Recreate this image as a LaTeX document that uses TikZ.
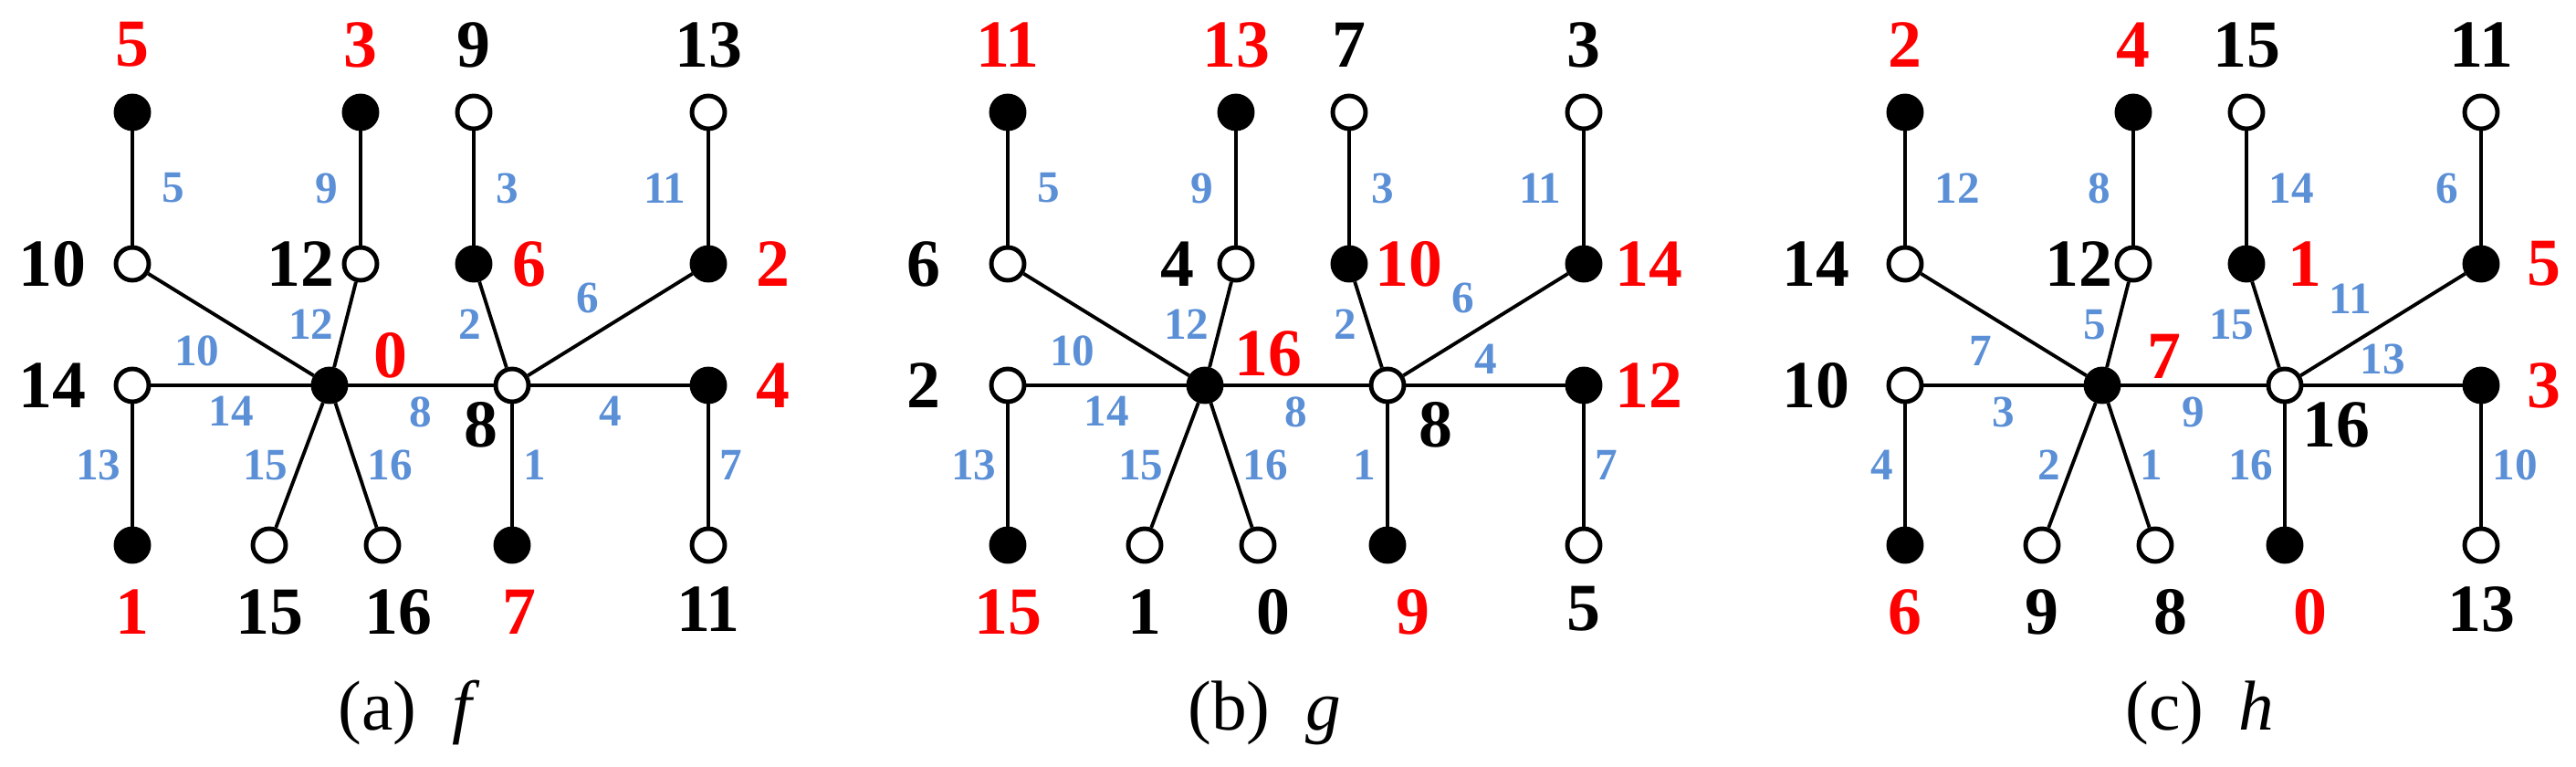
\documentclass[tikz,border=0pt]{standalone}
\usepackage{fontspec}
\setmainfont{Liberation Serif}
\tikzset{
  full/.style={circle,draw=black,line width=1.4pt,fill=black,inner sep=0pt,minimum size=0.36cm},
  hollow/.style={full,fill=white},
  vlab/.style={font=\fontsize{21}{21}\selectfont\bfseries,inner sep=0pt},
  elab/.style={font=\fontsize{14}{14}\selectfont\bfseries,text=edgeblue,inner sep=3pt},
  captext/.style={font=\fontsize{22}{22}\selectfont}
}
\definecolor{edgeblue}{HTML}{5B8FD6}
\newcommand{\placetree}{%
  \foreach \n/\x/\y/\s in {t1/1.45/7.16/full, m1/1.45/5.50/hollow, t2/3.95/7.16/full,
      m2/3.95/5.50/hollow, t3/5.19/7.16/hollow, m3/5.19/5.50/full, t4/7.76/7.16/hollow,
      m4/7.76/5.50/full, l/1.45/4.17/hollow, u/3.61/4.17/full, v/5.61/4.17/hollow,
      r/7.76/4.17/full, b1/1.45/2.42/full, b2/2.95/2.42/hollow, b3/4.19/2.42/hollow,
      b4/5.61/2.42/full, b5/7.76/2.42/hollow}
    \node[\s] (\n) at (\x,\y) {};}
\begin{document}
\begin{tikzpicture}
  \useasboundingbox (0,0) rectangle (28.22,8.39);
  % (a) f
  \begin{scope}
    \placetree
    \begin{scope}[every edge/.style={draw=black,line width=1.1pt}]
      \path (t1) edge node[elab,right=0.2cm] {5} (m1);
      \path (t2) edge node[elab,left=0.12cm] {9} (m2);
      \path (t3) edge node[elab,right=0.12cm] {3} (m3);
      \path (t4) edge node[elab,left=0.12cm] {11} (m4);
      \path (m1) edge node[elab,below left] {10} (u);
      \path (m2) edge node[elab,left] {12} (u);
      \path (m3) edge node[elab,left] {2} (v);
      \path (m4) edge node[elab,above left] {6} (v);
      \path (l) edge node[elab,below] {14} (u);
      \path (u) edge node[elab,below] {8} (v);
      \path (v) edge node[elab,below] {4} (r);
      \path (l) edge node[elab,left] {13} (b1);
      \path (u) edge node[elab,left] {15} (b2);
      \path (u) edge node[elab,right] {16} (b3);
      \path (v) edge node[elab,right] {1} (b4);
      \path (r) edge node[elab,right] {7} (b5);
    \end{scope}
    \node[vlab,red] at ([yshift=0.74cm]t1) {5};
    \node[vlab,red] at ([yshift=0.74cm]t2) {3};
    \node[vlab] at ([yshift=0.74cm]t3) {9};
    \node[vlab] at ([yshift=0.74cm]t4) {13};
    \node[vlab,anchor=east] at ([xshift=-0.5cm]m1) {10};
    \node[vlab,anchor=east] at ([xshift=-0.28cm]m2) {12};
    \node[vlab,red,anchor=west] at ([xshift=0.42cm]m3) {6};
    \node[vlab,red,anchor=west] at ([xshift=0.52cm]m4) {2};
    \node[vlab,anchor=east] at ([xshift=-0.5cm]l) {14};
    \node[vlab,red] at ([shift={(0.67,0.33)}]u) {0};
    \node[vlab] at ([shift={(-0.34,-0.43)}]v) {8};
    \node[vlab,red,anchor=west] at ([xshift=0.52cm]r) {4};
    \node[vlab,red] at ([yshift=-0.73cm]b1) {1};
    \node[vlab] at ([yshift=-0.73cm]b2) {15};
    \node[vlab] at ([shift={(0.17,-0.73)}]b3) {16};
    \node[vlab,red] at ([shift={(0.08,-0.73)}]b4) {7};
    \node[vlab] at ([yshift=-0.7cm]b5) {11};
    \node[captext] (capa) at (4.48,0.58) {(a)\ \ \textit{f}};
  \end{scope}
  % (b) g
  \begin{scope}[xshift=9.59cm]
    \placetree
    \begin{scope}[every edge/.style={draw=black,line width=1.1pt}]
      \path (t1) edge node[elab,right=0.2cm] {5} (m1);
      \path (t2) edge node[elab,left=0.12cm] {9} (m2);
      \path (t3) edge node[elab,right=0.12cm] {3} (m3);
      \path (t4) edge node[elab,left=0.12cm] {11} (m4);
      \path (m1) edge node[elab,below left] {10} (u);
      \path (m2) edge node[elab,left] {12} (u);
      \path (m3) edge node[elab,left] {2} (v);
      \path (m4) edge node[elab,above left] {6} (v);
      \path (l) edge node[elab,below] {14} (u);
      \path (u) edge node[elab,below] {8} (v);
      \path (v) edge node[elab,above] {4} (r);
      \path (l) edge node[elab,left] {13} (b1);
      \path (u) edge node[elab,left] {15} (b2);
      \path (u) edge node[elab,right] {16} (b3);
      \path (v) edge node[elab,left] {1} (b4);
      \path (r) edge node[elab,right] {7} (b5);
    \end{scope}
    \node[vlab,red] at ([yshift=0.74cm]t1) {11};
    \node[vlab,red] at ([yshift=0.74cm]t2) {13};
    \node[vlab] at ([yshift=0.74cm]t3) {7};
    \node[vlab] at ([yshift=0.74cm]t4) {3};
    \node[vlab,anchor=east] at ([xshift=-0.73cm]m1) {6};
    \node[vlab,anchor=east] at ([xshift=-0.45cm]m2) {4};
    \node[vlab,red,anchor=west] at ([xshift=0.28cm]m3) {10};
    \node[vlab,red,anchor=west] at ([xshift=0.34cm]m4) {14};
    \node[vlab,anchor=east] at ([xshift=-0.73cm]l) {2};
    \node[vlab,red] at ([shift={(0.69,0.35)}]u) {16};
    \node[vlab] at ([shift={(0.53,-0.43)}]v) {8};
    \node[vlab,red,anchor=west] at ([xshift=0.34cm]r) {12};
    \node[vlab,red] at ([yshift=-0.73cm]b1) {15};
    \node[vlab] at ([yshift=-0.73cm]b2) {1};
    \node[vlab] at ([shift={(0.17,-0.73)}]b3) {0};
    \node[vlab,red] at ([shift={(0.28,-0.73)}]b4) {9};
    \node[vlab] at ([yshift=-0.7cm]b5) {5};
    \node[captext] (capb) at (4.26,0.58) {(b)\ \ \textit{g}};
  \end{scope}
  % (c) h
  \begin{scope}[xshift=19.42cm]
    \placetree
    \begin{scope}[every edge/.style={draw=black,line width=1.1pt}]
      \path (t1) edge node[elab,right=0.2cm] {12} (m1);
      \path (t2) edge node[elab,left=0.12cm] {8} (m2);
      \path (t3) edge node[elab,right=0.12cm] {14} (m3);
      \path (t4) edge node[elab,left=0.12cm] {6} (m4);
      \path (m1) edge node[elab,below left] {7} (u);
      \path (m2) edge node[elab,left] {5} (u);
      \path (m3) edge node[elab,left] {15} (v);
      \path (m4) edge node[elab,above left] {11} (v);
      \path (l) edge node[elab,below] {3} (u);
      \path (u) edge node[elab,below] {9} (v);
      \path (v) edge node[elab,above] {13} (r);
      \path (l) edge node[elab,left] {4} (b1);
      \path (u) edge node[elab,left] {2} (b2);
      \path (u) edge node[elab,right] {1} (b3);
      \path (v) edge node[elab,left] {16} (b4);
      \path (r) edge node[elab,right] {10} (b5);
    \end{scope}
    \node[vlab,red] at ([yshift=0.74cm]t1) {2};
    \node[vlab,red] at ([yshift=0.74cm]t2) {4};
    \node[vlab] at ([yshift=0.74cm]t3) {15};
    \node[vlab] at ([yshift=0.74cm]t4) {11};
    \node[vlab,anchor=east] at ([xshift=-0.6cm]m1) {14};
    \node[vlab,anchor=east] at ([xshift=-0.22cm]m2) {12};
    \node[vlab,red,anchor=west] at ([xshift=0.45cm]m3) {1};
    \node[vlab,red,anchor=west] at ([xshift=0.5cm]m4) {5};
    \node[vlab,anchor=east] at ([xshift=-0.6cm]l) {10};
    \node[vlab,red] at ([shift={(0.68,0.32)}]u) {7};
    \node[vlab] at ([shift={(0.56,-0.43)}]v) {16};
    \node[vlab,red,anchor=west] at ([xshift=0.5cm]r) {3};
    \node[vlab,red] at ([yshift=-0.73cm]b1) {6};
    \node[vlab] at ([yshift=-0.73cm]b2) {9};
    \node[vlab] at ([shift={(0.17,-0.73)}]b3) {8};
    \node[vlab,red] at ([shift={(0.28,-0.73)}]b4) {0};
    \node[vlab] at ([yshift=-0.7cm]b5) {13};
    \node[captext] (capc) at (4.68,0.58) {(c)\ \ \textit{h}};
  \end{scope}
\end{tikzpicture}
\end{document}
